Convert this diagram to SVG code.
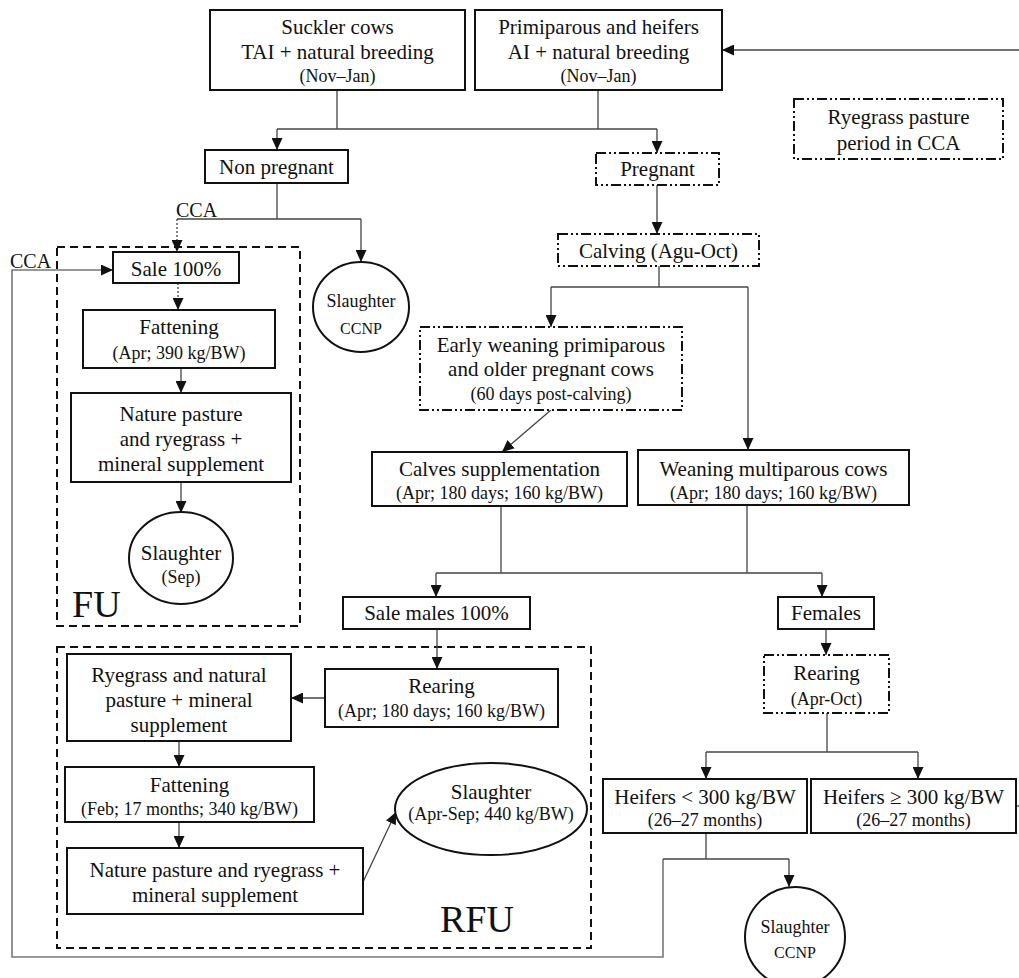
<svg xmlns="http://www.w3.org/2000/svg" width="1019" height="978" viewBox="0 0 1019 978" font-family="Liberation Serif, Times New Roman, serif">
<style>
text{fill:#111;text-anchor:middle}
.m{font-size:21px}
.s{font-size:18px}
.xs{font-size:16px}
.big{font-size:38px;text-anchor:start}
.lbl{font-size:20px;text-anchor:start}
.box{fill:#fff;stroke:#111;stroke-width:2}
.dd{fill:#fff;stroke:#111;stroke-width:2;stroke-dasharray:10 3 2 3 2 3}
.grp{fill:none;stroke:#111;stroke-width:2;stroke-dasharray:8 5}
.c{fill:none;stroke:#444;stroke-width:1.3}
.dot{fill:none;stroke:#444;stroke-width:1.3;stroke-dasharray:2 2}
.ret{fill:none;stroke:#777;stroke-width:1.6}
</style>
<defs>
<marker id="ah" markerUnits="userSpaceOnUse" markerWidth="12" markerHeight="11" refX="12" refY="5.5" orient="auto">
<path d="M0,0 L12,5.5 L0,11 z" fill="#111"/>
</marker>
</defs>

<g id="groups">
<rect id="FU" class="grp" x="57" y="247" width="243" height="379"/>
<rect id="RFU" class="grp" x="57" y="647" width="534" height="301"/>
</g>

<g id="connectors">
<line class="c" x1="1019" y1="50" x2="722" y2="50" marker-end="url(#ah)"/>
<line class="c" x1="337" y1="90" x2="337" y2="129"/>
<line class="c" x1="598" y1="90" x2="598" y2="129"/>
<line class="c" x1="277" y1="129" x2="657" y2="129"/>
<line class="c" x1="277" y1="129" x2="277" y2="150" marker-end="url(#ah)"/>
<line class="c" x1="657" y1="129" x2="657" y2="153" marker-end="url(#ah)"/>
<line class="c" x1="657" y1="185" x2="657" y2="234" marker-end="url(#ah)"/>
<line class="c" x1="277" y1="183" x2="277" y2="219"/>
<line class="c" x1="177" y1="219" x2="361" y2="219"/>
<line class="dot" x1="177" y1="219" x2="177" y2="252" marker-end="url(#ah)"/>
<line class="c" x1="361" y1="219" x2="361" y2="262" marker-end="url(#ah)"/>
<polyline class="ret" points="663,859 663,957 12,957 12,270 113,270" marker-end="url(#ah)"/>
<line class="dot" x1="178" y1="283" x2="178" y2="310" marker-end="url(#ah)"/>
<line class="c" x1="181" y1="368" x2="181" y2="393" marker-end="url(#ah)"/>
<line class="c" x1="181" y1="482" x2="181" y2="513" marker-end="url(#ah)"/>
<line class="c" x1="659" y1="266" x2="659" y2="287"/>
<line class="c" x1="551" y1="287" x2="748" y2="287"/>
<line class="c" x1="551" y1="287" x2="551" y2="327" marker-end="url(#ah)"/>
<line class="c" x1="748" y1="287" x2="748" y2="450" marker-end="url(#ah)"/>
<line class="c" x1="551" y1="410" x2="502" y2="452" marker-end="url(#ah)"/>
<line class="c" x1="501" y1="506" x2="501" y2="573"/>
<line class="c" x1="747" y1="505" x2="747" y2="573"/>
<line class="c" x1="436" y1="573" x2="822" y2="573"/>
<line class="c" x1="436" y1="573" x2="436" y2="597" marker-end="url(#ah)"/>
<line class="c" x1="822" y1="573" x2="822" y2="597" marker-end="url(#ah)"/>
<line class="c" x1="437" y1="629" x2="437" y2="669" marker-end="url(#ah)"/>
<line class="c" x1="325" y1="698" x2="291" y2="698" marker-end="url(#ah)"/>
<line class="c" x1="179" y1="741" x2="179" y2="767" marker-end="url(#ah)"/>
<line class="c" x1="179" y1="822" x2="179" y2="848" marker-end="url(#ah)"/>
<line class="c" x1="363" y1="882" x2="396" y2="812" marker-end="url(#ah)"/>
<line class="c" x1="826" y1="629" x2="826" y2="655" marker-end="url(#ah)"/>
<line class="c" x1="827" y1="713" x2="827" y2="752"/>
<line class="c" x1="706" y1="752" x2="918" y2="752"/>
<line class="c" x1="706" y1="752" x2="706" y2="779" marker-end="url(#ah)"/>
<line class="c" x1="918" y1="752" x2="918" y2="779" marker-end="url(#ah)"/>
<line class="c" x1="706" y1="833" x2="706" y2="859"/>
<line class="c" x1="663" y1="859" x2="789" y2="859"/>
<line class="c" x1="789" y1="859" x2="789" y2="887" marker-end="url(#ah)"/>
<line class="c" x1="1016" y1="806" x2="1019" y2="806"/>
</g>

<g id="suckler">
<rect class="box" x="210" y="10" width="255" height="80"/>
<text class="m" x="337.5" y="34">Suckler cows</text>
<text class="m" x="337.5" y="59">TAI + natural breeding</text>
<text class="s" x="337.5" y="82">(Nov–Jan)</text>
</g>
<g id="primiparous">
<rect class="box" x="475" y="10" width="247" height="80"/>
<text class="m" x="598.5" y="34">Primiparous and heifers</text>
<text class="m" x="598.5" y="59">AI + natural breeding</text>
<text class="s" x="598.5" y="82">(Nov–Jan)</text>
</g>
<g id="legend">
<rect class="dd" x="794" y="99" width="209" height="60"/>
<text class="m" x="898.5" y="124">Ryegrass pasture</text>
<text class="m" x="898.5" y="150">period in CCA</text>
</g>
<g id="nonpregnant">
<rect class="box" x="205" y="150" width="143" height="33"/>
<text class="m" x="276.5" y="174">Non pregnant</text>
</g>
<g id="pregnant">
<rect class="dd" x="596" y="153" width="123" height="32"/>
<text class="m" x="657.5" y="176">Pregnant</text>
</g>
<g id="cca-labels">
<text class="lbl" x="176" y="217">CCA</text>
<text class="lbl" x="10" y="268">CCA</text>
</g>
<g id="slaughter-ccnp-1">
<ellipse class="box" cx="361" cy="307" rx="48" ry="45"/>
<text class="s" x="361" y="307">Slaughter</text>
<text class="xs" x="361" y="334">CCNP</text>
</g>
<g id="fu-label">
<text class="big" x="72" y="617">FU</text>
</g>
<g id="sale100">
<rect class="box" x="113" y="252" width="126" height="31"/>
<text class="m" x="176" y="276">Sale 100%</text>
</g>
<g id="fattening-fu">
<rect class="box" x="83" y="310" width="192" height="58"/>
<text class="m" x="179" y="334">Fattening</text>
<text class="s" x="179" y="359">(Apr; 390 kg/BW)</text>
</g>
<g id="nature-fu">
<rect class="box" x="71" y="393" width="220" height="89"/>
<text class="m" x="181" y="421">Nature pasture</text>
<text class="m" x="181" y="446">and ryegrass +</text>
<text class="m" x="181" y="471">mineral supplement</text>
</g>
<g id="slaughter-sep">
<ellipse class="box" cx="181" cy="558" rx="52" ry="46"/>
<text class="m" x="181" y="560">Slaughter</text>
<text class="s" x="181" y="583">(Sep)</text>
</g>
<g id="calving">
<rect class="dd" x="558" y="234" width="201" height="32"/>
<text class="m" x="658.5" y="258">Calving (Agu-Oct)</text>
</g>
<g id="early-weaning">
<rect class="dd" x="420" y="327" width="262" height="83"/>
<text class="m" x="551" y="352">Early weaning primiparous</text>
<text class="m" x="551" y="376">and older pregnant cows</text>
<text class="s" x="551" y="400">(60 days post-calving)</text>
</g>
<g id="calves-supplementation">
<rect class="box" x="372" y="452" width="255" height="54"/>
<text class="m" x="499.5" y="476">Calves supplementation</text>
<text class="s" x="499.5" y="499">(Apr; 180 days; 160 kg/BW)</text>
</g>
<g id="weaning-multiparous">
<rect class="box" x="638" y="450" width="271" height="55"/>
<text class="m" x="773.5" y="476">Weaning multiparous cows</text>
<text class="s" x="773.5" y="499">(Apr; 180 days; 160 kg/BW)</text>
</g>
<g id="sale-males">
<rect class="box" x="343" y="597" width="187" height="32"/>
<text class="m" x="436.5" y="620">Sale males 100%</text>
</g>
<g id="females">
<rect class="box" x="778" y="597" width="96" height="32"/>
<text class="m" x="826" y="620">Females</text>
</g>
<g id="rearing-females">
<rect class="dd" x="764" y="655" width="125" height="58"/>
<text class="m" x="826.5" y="680">Rearing</text>
<text class="s" x="826.5" y="705">(Apr-Oct)</text>
</g>
<g id="heifers-lt">
<rect class="box" x="603" y="779" width="204" height="54"/>
<text class="m" x="705" y="804">Heifers &lt; 300 kg/BW</text>
<text class="s" x="705" y="826">(26–27 months)</text>
</g>
<g id="heifers-ge">
<rect class="box" x="811" y="779" width="205" height="54"/>
<text class="m" x="913.5" y="804">Heifers ≥ 300 kg/BW</text>
<text class="s" x="913.5" y="826">(26–27 months)</text>
</g>
<g id="slaughter-ccnp-2">
<ellipse class="box" cx="795" cy="937" rx="50" ry="50"/>
<text class="s" x="795" y="933">Slaughter</text>
<text class="xs" x="795" y="958">CCNP</text>
</g>
<g id="rfu-label">
<text class="big" x="440" y="932">RFU</text>
</g>
<g id="rearing-males">
<rect class="box" x="325" y="669" width="233" height="58"/>
<text class="m" x="441.5" y="693">Rearing</text>
<text class="s" x="441.5" y="717">(Apr; 180 days; 160 kg/BW)</text>
</g>
<g id="ryegrass-natural">
<rect class="box" x="67" y="654" width="224" height="87"/>
<text class="m" x="179" y="682">Ryegrass and natural</text>
<text class="m" x="179" y="707">pasture + mineral</text>
<text class="m" x="179" y="732">supplement</text>
</g>
<g id="fattening-rfu">
<rect class="box" x="65" y="767" width="249" height="55"/>
<text class="m" x="189.5" y="792">Fattening</text>
<text class="s" x="189.5" y="815">(Feb; 17 months; 340 kg/BW)</text>
</g>
<g id="nature-rfu">
<rect class="box" x="67" y="848" width="296" height="66"/>
<text class="m" x="215" y="877">Nature pasture and ryegrass +</text>
<text class="m" x="215" y="902">mineral supplement</text>
</g>
<g id="slaughter-rfu">
<ellipse class="box" cx="491" cy="809" rx="96" ry="46"/>
<text class="m" x="491" y="799">Slaughter</text>
<text class="s" x="491" y="820">(Apr-Sep; 440 kg/BW)</text>
</g>
</svg>
